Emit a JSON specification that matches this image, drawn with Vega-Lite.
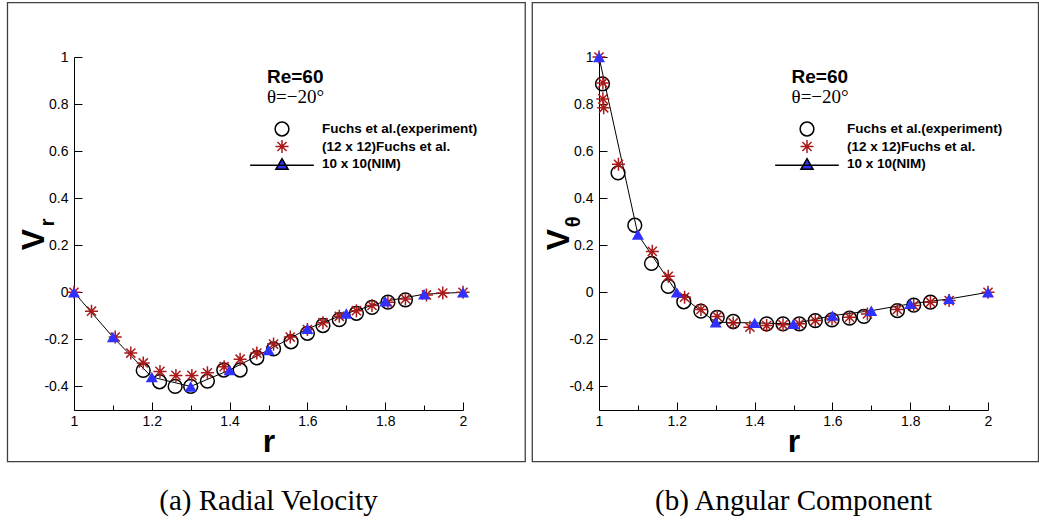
{
  "$schema": "https://vega.github.io/schema/vega-lite/v6.json",
  "padding": {"left": 6, "top": 2, "right": 0, "bottom": 0},
  "background": "white",
  "datasets": {
    "a": [
      {"series": "Fuchs et al.(experiment)", "r": 1.178, "v": -0.332},
      {"series": "Fuchs et al.(experiment)", "r": 1.22, "v": -0.38},
      {"series": "Fuchs et al.(experiment)", "r": 1.26, "v": -0.4},
      {"series": "Fuchs et al.(experiment)", "r": 1.3, "v": -0.4},
      {"series": "Fuchs et al.(experiment)", "r": 1.343, "v": -0.377},
      {"series": "Fuchs et al.(experiment)", "r": 1.385, "v": -0.33},
      {"series": "Fuchs et al.(experiment)", "r": 1.427, "v": -0.33},
      {"series": "Fuchs et al.(experiment)", "r": 1.47, "v": -0.278},
      {"series": "Fuchs et al.(experiment)", "r": 1.513, "v": -0.24},
      {"series": "Fuchs et al.(experiment)", "r": 1.558, "v": -0.21},
      {"series": "Fuchs et al.(experiment)", "r": 1.6, "v": -0.174},
      {"series": "Fuchs et al.(experiment)", "r": 1.64, "v": -0.141},
      {"series": "Fuchs et al.(experiment)", "r": 1.682, "v": -0.116},
      {"series": "Fuchs et al.(experiment)", "r": 1.726, "v": -0.089},
      {"series": "Fuchs et al.(experiment)", "r": 1.766, "v": -0.064},
      {"series": "Fuchs et al.(experiment)", "r": 1.807, "v": -0.042},
      {"series": "Fuchs et al.(experiment)", "r": 1.852, "v": -0.032},
      {"series": "(12 x 12)Fuchs et al.", "r": 1.0, "v": 0},
      {"series": "(12 x 12)Fuchs et al.", "r": 1.045, "v": -0.08},
      {"series": "(12 x 12)Fuchs et al.", "r": 1.106, "v": -0.19},
      {"series": "(12 x 12)Fuchs et al.", "r": 1.146, "v": -0.258},
      {"series": "(12 x 12)Fuchs et al.", "r": 1.178, "v": -0.3},
      {"series": "(12 x 12)Fuchs et al.", "r": 1.221, "v": -0.336},
      {"series": "(12 x 12)Fuchs et al.", "r": 1.262, "v": -0.353},
      {"series": "(12 x 12)Fuchs et al.", "r": 1.303, "v": -0.353},
      {"series": "(12 x 12)Fuchs et al.", "r": 1.343, "v": -0.342},
      {"series": "(12 x 12)Fuchs et al.", "r": 1.386, "v": -0.316},
      {"series": "(12 x 12)Fuchs et al.", "r": 1.427, "v": -0.284},
      {"series": "(12 x 12)Fuchs et al.", "r": 1.47, "v": -0.258},
      {"series": "(12 x 12)Fuchs et al.", "r": 1.513, "v": -0.22},
      {"series": "(12 x 12)Fuchs et al.", "r": 1.556, "v": -0.19},
      {"series": "(12 x 12)Fuchs et al.", "r": 1.6, "v": -0.158},
      {"series": "(12 x 12)Fuchs et al.", "r": 1.64, "v": -0.129},
      {"series": "(12 x 12)Fuchs et al.", "r": 1.682, "v": -0.102},
      {"series": "(12 x 12)Fuchs et al.", "r": 1.726, "v": -0.078},
      {"series": "(12 x 12)Fuchs et al.", "r": 1.766, "v": -0.056},
      {"series": "(12 x 12)Fuchs et al.", "r": 1.807, "v": -0.042},
      {"series": "(12 x 12)Fuchs et al.", "r": 1.852, "v": -0.028},
      {"series": "(12 x 12)Fuchs et al.", "r": 1.906, "v": -0.011},
      {"series": "(12 x 12)Fuchs et al.", "r": 1.948, "v": -0.003},
      {"series": "(12 x 12)Fuchs et al.", "r": 2.0, "v": 0},
      {"series": "10 x 10(NIM)", "r": 1.0, "v": 0},
      {"series": "10 x 10(NIM)", "r": 1.1, "v": -0.19},
      {"series": "10 x 10(NIM)", "r": 1.2, "v": -0.36},
      {"series": "10 x 10(NIM)", "r": 1.3, "v": -0.4},
      {"series": "10 x 10(NIM)", "r": 1.4, "v": -0.33},
      {"series": "10 x 10(NIM)", "r": 1.5, "v": -0.245},
      {"series": "10 x 10(NIM)", "r": 1.6, "v": -0.155},
      {"series": "10 x 10(NIM)", "r": 1.7, "v": -0.09},
      {"series": "10 x 10(NIM)", "r": 1.8, "v": -0.038},
      {"series": "10 x 10(NIM)", "r": 1.9, "v": -0.008},
      {"series": "10 x 10(NIM)", "r": 2.0, "v": 0}
    ],
    "b": [
      {"series": "Fuchs et al.(experiment)", "r": 1.009, "v": 0.886},
      {"series": "Fuchs et al.(experiment)", "r": 1.049, "v": 0.508},
      {"series": "Fuchs et al.(experiment)", "r": 1.092, "v": 0.285},
      {"series": "Fuchs et al.(experiment)", "r": 1.135, "v": 0.123},
      {"series": "Fuchs et al.(experiment)", "r": 1.178, "v": 0.025},
      {"series": "Fuchs et al.(experiment)", "r": 1.218, "v": -0.04},
      {"series": "Fuchs et al.(experiment)", "r": 1.262, "v": -0.08},
      {"series": "Fuchs et al.(experiment)", "r": 1.304, "v": -0.106},
      {"series": "Fuchs et al.(experiment)", "r": 1.345, "v": -0.124},
      {"series": "Fuchs et al.(experiment)", "r": 1.431, "v": -0.134},
      {"series": "Fuchs et al.(experiment)", "r": 1.473, "v": -0.134},
      {"series": "Fuchs et al.(experiment)", "r": 1.515, "v": -0.134},
      {"series": "Fuchs et al.(experiment)", "r": 1.556, "v": -0.12},
      {"series": "Fuchs et al.(experiment)", "r": 1.599, "v": -0.117},
      {"series": "Fuchs et al.(experiment)", "r": 1.644, "v": -0.11},
      {"series": "Fuchs et al.(experiment)", "r": 1.681, "v": -0.102},
      {"series": "Fuchs et al.(experiment)", "r": 1.767, "v": -0.078},
      {"series": "Fuchs et al.(experiment)", "r": 1.809, "v": -0.054},
      {"series": "Fuchs et al.(experiment)", "r": 1.852, "v": -0.042},
      {"series": "(12 x 12)Fuchs et al.", "r": 1.0, "v": 1.0},
      {"series": "(12 x 12)Fuchs et al.", "r": 1.01, "v": 0.89},
      {"series": "(12 x 12)Fuchs et al.", "r": 1.01, "v": 0.822},
      {"series": "(12 x 12)Fuchs et al.", "r": 1.012, "v": 0.784},
      {"series": "(12 x 12)Fuchs et al.", "r": 1.05, "v": 0.544},
      {"series": "(12 x 12)Fuchs et al.", "r": 1.137, "v": 0.174},
      {"series": "(12 x 12)Fuchs et al.", "r": 1.178, "v": 0.068},
      {"series": "(12 x 12)Fuchs et al.", "r": 1.22, "v": -0.021},
      {"series": "(12 x 12)Fuchs et al.", "r": 1.262, "v": -0.073},
      {"series": "(12 x 12)Fuchs et al.", "r": 1.304, "v": -0.103},
      {"series": "(12 x 12)Fuchs et al.", "r": 1.345, "v": -0.13},
      {"series": "(12 x 12)Fuchs et al.", "r": 1.388, "v": -0.148},
      {"series": "(12 x 12)Fuchs et al.", "r": 1.431, "v": -0.141},
      {"series": "(12 x 12)Fuchs et al.", "r": 1.473, "v": -0.138},
      {"series": "(12 x 12)Fuchs et al.", "r": 1.515, "v": -0.134},
      {"series": "(12 x 12)Fuchs et al.", "r": 1.556, "v": -0.12},
      {"series": "(12 x 12)Fuchs et al.", "r": 1.599, "v": -0.113},
      {"series": "(12 x 12)Fuchs et al.", "r": 1.644, "v": -0.106},
      {"series": "(12 x 12)Fuchs et al.", "r": 1.69, "v": -0.092},
      {"series": "(12 x 12)Fuchs et al.", "r": 1.767, "v": -0.073},
      {"series": "(12 x 12)Fuchs et al.", "r": 1.809, "v": -0.056},
      {"series": "(12 x 12)Fuchs et al.", "r": 1.852, "v": -0.042},
      {"series": "(12 x 12)Fuchs et al.", "r": 1.9, "v": -0.035},
      {"series": "(12 x 12)Fuchs et al.", "r": 2.0, "v": 0},
      {"series": "10 x 10(NIM)", "r": 1.0, "v": 1.0},
      {"series": "10 x 10(NIM)", "r": 1.1, "v": 0.246},
      {"series": "10 x 10(NIM)", "r": 1.2, "v": 0.0},
      {"series": "10 x 10(NIM)", "r": 1.3, "v": -0.127},
      {"series": "10 x 10(NIM)", "r": 1.4, "v": -0.13},
      {"series": "10 x 10(NIM)", "r": 1.5, "v": -0.134},
      {"series": "10 x 10(NIM)", "r": 1.6, "v": -0.099},
      {"series": "10 x 10(NIM)", "r": 1.7, "v": -0.078},
      {"series": "10 x 10(NIM)", "r": 1.8, "v": -0.049},
      {"series": "10 x 10(NIM)", "r": 1.9, "v": -0.028},
      {"series": "10 x 10(NIM)", "r": 2.0, "v": 0}
    ]
  },
  "spacing": 136,
  "bounds": "flush",
  "resolve": {"scale": {"x": "independent", "y": "independent", "shape": "independent", "fill": "independent", "stroke": "independent", "size": "independent"}},
  "hconcat": [
    {
      "width": 389,
      "height": 353,
      "data": {"name": "a"},
      "title": {"text": "(a) Radial Velocity", "orient": "bottom", "anchor": "middle", "offset": 25, "font": "Liberation Serif", "fontSize": 29, "fontWeight": "normal", "color": "black"},
      "layer": [
        {
          "data": {"values": [{}]},
          "mark": {"type": "rect", "fill": "transparent", "stroke": "#404040", "strokeWidth": 1.3, "clip": false},
          "encoding": {
            "x": {"datum": 0.829, "type": "quantitative", "scale": {"domain": [1, 2], "nice": false, "zero": false}, "title": "r"},
            "x2": {"datum": 2.16},
            "y": {"datum": 1.2307, "type": "quantitative", "scale": {"domain": [-0.5, 1], "nice": false, "zero": false}, "title": "V"},
            "y2": {"datum": -0.7197}
          }
        },
        {
          "transform": [{"filter": "datum.series === '10 x 10(NIM)'"}],
          "mark": {"type": "line", "color": "black", "strokeWidth": 1},
          "encoding": {
            "x": {"field": "r", "type": "quantitative", "scale": {"domain": [1, 2], "nice": false, "zero": false}, "title": "r"},
            "y": {"field": "v", "type": "quantitative", "scale": {"domain": [-0.5, 1], "nice": false, "zero": false}, "title": "V"}
          }
        },
        {
          "transform": [{"filter": "datum.series !== '10 x 10(NIM)'"}],
          "mark": {"type": "point", "opacity": 1, "strokeWidth": 1.5},
          "encoding": {
            "x": {"field": "r", "type": "quantitative", "scale": {"domain": [1, 2], "nice": false, "zero": false}, "title": "r"},
            "y": {"field": "v", "type": "quantitative", "scale": {"domain": [-0.5, 1], "nice": false, "zero": false}, "title": "V"},
            "shape": {"field": "series", "type": "nominal", "scale": {"domain": ["Fuchs et al.(experiment)", "(12 x 12)Fuchs et al.", "10 x 10(NIM)"], "range": ["circle", "M0,-1L0,1M-1,0L1,0M-0.7,-0.7L0.7,0.7M-0.7,0.7L0.7,-0.7", "M-5.2,0.2L5.2,0.2M0,-0.87L1,0.87L-1,0.87Z"]}, "legend": {"title": null, "orient": "none", "legendX": 200, "legendY": 64}},
            "fill": {"field": "series", "type": "nominal", "scale": {"domain": ["Fuchs et al.(experiment)", "(12 x 12)Fuchs et al.", "10 x 10(NIM)"], "range": ["transparent", "transparent", "#3030ff"]}, "legend": {"title": null, "orient": "none", "legendX": 200, "legendY": 64}},
            "stroke": {"field": "series", "type": "nominal", "scale": {"domain": ["Fuchs et al.(experiment)", "(12 x 12)Fuchs et al.", "10 x 10(NIM)"], "range": ["black", "#aa1a1a", "black"]}, "legend": {"title": null, "orient": "none", "legendX": 200, "legendY": 64}},
            "size": {"field": "series", "type": "nominal", "scale": {"domain": ["Fuchs et al.(experiment)", "(12 x 12)Fuchs et al.", "10 x 10(NIM)"], "range": [190, 150, 144]}, "legend": {"title": null, "orient": "none", "legendX": 200, "legendY": 64}}
          }
        },
        {
          "transform": [{"filter": "datum.series === '10 x 10(NIM)'"}],
          "mark": {"type": "point", "shape": "triangle-up", "filled": true, "color": "#3030ff", "opacity": 1, "size": 144, "strokeWidth": 0},
          "encoding": {
            "x": {"field": "r", "type": "quantitative", "scale": {"domain": [1, 2], "nice": false, "zero": false}, "title": "r"},
            "y": {"field": "v", "type": "quantitative", "scale": {"domain": [-0.5, 1], "nice": false, "zero": false}, "title": "V"}
          }
        },
        {
          "data": {"values": [{"t": "Re=60"}]},
          "mark": {"type": "text", "font": "Liberation Sans", "fontWeight": "bold", "fontSize": 19, "align": "left", "baseline": "middle", "color": "black"},
          "encoding": {
            "x": {"datum": 1.496, "type": "quantitative", "scale": {"domain": [1, 2], "nice": false, "zero": false}, "title": "r"},
            "y": {"datum": 0.915, "type": "quantitative", "scale": {"domain": [-0.5, 1], "nice": false, "zero": false}, "title": "V"},
            "text": {"field": "t"}
          }
        },
        {
          "data": {"values": [{"t": "θ=−20°"}]},
          "mark": {"type": "text", "font": "Liberation Serif", "fontSize": 19, "align": "left", "baseline": "middle", "color": "black"},
          "encoding": {
            "x": {"datum": 1.496, "type": "quantitative", "scale": {"domain": [1, 2], "nice": false, "zero": false}, "title": "r"},
            "y": {"datum": 0.83, "type": "quantitative", "scale": {"domain": [-0.5, 1], "nice": false, "zero": false}, "title": "V"},
            "text": {"field": "t"}
          }
        },
        {
          "data": {"values": [{"t": "r"}]},
          "mark": {"type": "text", "font": "Liberation Sans", "fontWeight": "bold", "fontSize": 21, "align": "center", "baseline": "middle", "angle": 270, "color": "black"},
          "encoding": {
            "x": {"datum": 0.932, "type": "quantitative", "scale": {"domain": [1, 2], "nice": false, "zero": false}, "title": "r"},
            "y": {"datum": 0.297, "type": "quantitative", "scale": {"domain": [-0.5, 1], "nice": false, "zero": false}, "title": "V"},
            "text": {"field": "t"}
          }
        }
      ]
    },
    {
      "width": 389,
      "height": 353,
      "data": {"name": "b"},
      "title": {"text": "(b) Angular Component", "orient": "bottom", "anchor": "middle", "offset": 25, "font": "Liberation Serif", "fontSize": 29, "fontWeight": "normal", "color": "black"},
      "layer": [
        {
          "data": {"values": [{}]},
          "mark": {"type": "rect", "fill": "transparent", "stroke": "#404040", "strokeWidth": 1.3, "clip": false},
          "encoding": {
            "x": {"datum": 0.8285, "type": "quantitative", "scale": {"domain": [1, 2], "nice": false, "zero": false}, "title": "r"},
            "x2": {"datum": 2.1298},
            "y": {"datum": 1.2307, "type": "quantitative", "scale": {"domain": [-0.5, 1], "nice": false, "zero": false}, "title": "V"},
            "y2": {"datum": -0.7197}
          }
        },
        {
          "transform": [{"filter": "datum.series === '10 x 10(NIM)'"}],
          "mark": {"type": "line", "color": "black", "strokeWidth": 1},
          "encoding": {
            "x": {"field": "r", "type": "quantitative", "scale": {"domain": [1, 2], "nice": false, "zero": false}, "title": "r"},
            "y": {"field": "v", "type": "quantitative", "scale": {"domain": [-0.5, 1], "nice": false, "zero": false}, "title": "V"}
          }
        },
        {
          "transform": [{"filter": "datum.series !== '10 x 10(NIM)'"}],
          "mark": {"type": "point", "opacity": 1, "strokeWidth": 1.5},
          "encoding": {
            "x": {"field": "r", "type": "quantitative", "scale": {"domain": [1, 2], "nice": false, "zero": false}, "title": "r"},
            "y": {"field": "v", "type": "quantitative", "scale": {"domain": [-0.5, 1], "nice": false, "zero": false}, "title": "V"},
            "shape": {"field": "series", "type": "nominal", "scale": {"domain": ["Fuchs et al.(experiment)", "(12 x 12)Fuchs et al.", "10 x 10(NIM)"], "range": ["circle", "M0,-1L0,1M-1,0L1,0M-0.7,-0.7L0.7,0.7M-0.7,0.7L0.7,-0.7", "M-5.2,0.2L5.2,0.2M0,-0.87L1,0.87L-1,0.87Z"]}, "legend": {"title": null, "orient": "none", "legendX": 200, "legendY": 64}},
            "fill": {"field": "series", "type": "nominal", "scale": {"domain": ["Fuchs et al.(experiment)", "(12 x 12)Fuchs et al.", "10 x 10(NIM)"], "range": ["transparent", "transparent", "#3030ff"]}, "legend": {"title": null, "orient": "none", "legendX": 200, "legendY": 64}},
            "stroke": {"field": "series", "type": "nominal", "scale": {"domain": ["Fuchs et al.(experiment)", "(12 x 12)Fuchs et al.", "10 x 10(NIM)"], "range": ["black", "#aa1a1a", "black"]}, "legend": {"title": null, "orient": "none", "legendX": 200, "legendY": 64}},
            "size": {"field": "series", "type": "nominal", "scale": {"domain": ["Fuchs et al.(experiment)", "(12 x 12)Fuchs et al.", "10 x 10(NIM)"], "range": [190, 150, 144]}, "legend": {"title": null, "orient": "none", "legendX": 200, "legendY": 64}}
          }
        },
        {
          "transform": [{"filter": "datum.series === '10 x 10(NIM)'"}],
          "mark": {"type": "point", "shape": "triangle-up", "filled": true, "color": "#3030ff", "opacity": 1, "size": 144, "strokeWidth": 0},
          "encoding": {
            "x": {"field": "r", "type": "quantitative", "scale": {"domain": [1, 2], "nice": false, "zero": false}, "title": "r"},
            "y": {"field": "v", "type": "quantitative", "scale": {"domain": [-0.5, 1], "nice": false, "zero": false}, "title": "V"}
          }
        },
        {
          "data": {"values": [{"t": "Re=60"}]},
          "mark": {"type": "text", "font": "Liberation Sans", "fontWeight": "bold", "fontSize": 19, "align": "left", "baseline": "middle", "color": "black"},
          "encoding": {
            "x": {"datum": 1.495, "type": "quantitative", "scale": {"domain": [1, 2], "nice": false, "zero": false}, "title": "r"},
            "y": {"datum": 0.915, "type": "quantitative", "scale": {"domain": [-0.5, 1], "nice": false, "zero": false}, "title": "V"},
            "text": {"field": "t"}
          }
        },
        {
          "data": {"values": [{"t": "θ=−20°"}]},
          "mark": {"type": "text", "font": "Liberation Serif", "fontSize": 19, "align": "left", "baseline": "middle", "color": "black"},
          "encoding": {
            "x": {"datum": 1.495, "type": "quantitative", "scale": {"domain": [1, 2], "nice": false, "zero": false}, "title": "r"},
            "y": {"datum": 0.83, "type": "quantitative", "scale": {"domain": [-0.5, 1], "nice": false, "zero": false}, "title": "V"},
            "text": {"field": "t"}
          }
        },
        {
          "data": {"values": [{"t": "θ"}]},
          "mark": {"type": "text", "font": "Liberation Sans", "fontWeight": "bold", "fontSize": 20, "align": "center", "baseline": "middle", "angle": 270, "color": "black"},
          "encoding": {
            "x": {"datum": 0.935, "type": "quantitative", "scale": {"domain": [1, 2], "nice": false, "zero": false}, "title": "r"},
            "y": {"datum": 0.3, "type": "quantitative", "scale": {"domain": [-0.5, 1], "nice": false, "zero": false}, "title": "V"},
            "text": {"field": "t"}
          }
        }
      ]
    }
  ],
  "config": {
    "view": {"stroke": null},
    "axis": {
      "grid": false,
      "domainColor": "black",
      "domainWidth": 1,
      "tickColor": "black",
      "tickWidth": 1,
      "tickSize": {"condition": {"test": "abs(datum.value/0.2 - round(datum.value/0.2)) < 0.001", "value": -8}, "value": -5},
      "labelExpr": "abs(datum.value/0.2 - round(datum.value/0.2)) < 0.001 ? '' + round(datum.value*10)/10 : ''",
      "labelFont": "Liberation Sans",
      "labelFontSize": 14,
      "labelColor": "black",
      "labelOverlap": false,
      "labelFlush": false,
      "titleFont": "Liberation Sans",
      "titleFontWeight": "bold",
      "titleFontSize": 32,
      "titleColor": "black"
    },
    "axisX": {
      "values": [1, 1.05, 1.1, 1.15, 1.2, 1.25, 1.3, 1.35, 1.4, 1.45, 1.5, 1.55, 1.6, 1.65, 1.7, 1.75, 1.8, 1.85, 1.9, 1.95, 2],
      "labelPadding": 12,
      "titleY": 41,
      "titleBaseline": "alphabetic"
    },
    "axisY": {
      "values": [-0.5, -0.45, -0.4, -0.35, -0.3, -0.25, -0.2, -0.15, -0.1, -0.05, 0, 0.05, 0.1, 0.15, 0.2, 0.25, 0.3, 0.35, 0.4, 0.45, 0.5, 0.55, 0.6, 0.65, 0.7, 0.75, 0.8, 0.85, 0.9, 0.95, 1],
      "labelPadding": 14,
      "titleX": -31,
      "titleY": 182,
      "titleAngle": 270,
      "titleAlign": "center",
      "titleBaseline": "alphabetic"
    },
    "legend": {
      "padding": 0,
      "labelFont": "Liberation Sans",
      "labelFontWeight": "bold",
      "labelFontSize": 13.5,
      "labelColor": "black",
      "labelOffset": 32,
      "labelLimit": 400,
      "rowPadding": -3,
      "symbolStrokeWidth": 1.5
    }
  }
}
